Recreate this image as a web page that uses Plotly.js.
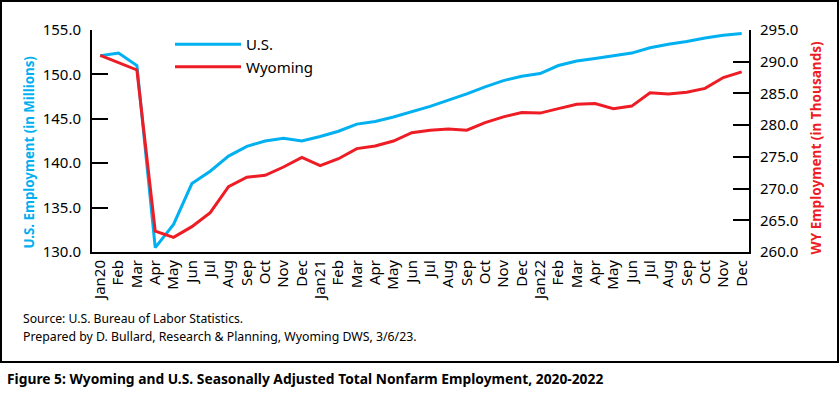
<!DOCTYPE html>
<html>
<head>
<meta charset="utf-8">
<script src="https://cdn.plot.ly/plotly-3.0.1.min.js"></script>
<style>
  html, body { margin: 0; padding: 0; background: #fff; }
  #chart { width: 840px; height: 393px; }
</style>
</head>
<body>
<div id="chart"></div>
<script>
// ---- Data ----
const monthLabels = [
  "Jan20","Feb","Mar","Apr","May","Jun","Jul","Aug","Sep","Oct","Nov","Dec",
  "Jan21","Feb","Mar","Apr","May","Jun","Jul","Aug","Sep","Oct","Nov","Dec",
  "Jan22","Feb","Mar","Apr","May","Jun","Jul","Aug","Sep","Oct","Nov","Dec"
];
// U.S. employment, millions
const usEmployment = [
  152.1, 152.4, 151.0, 130.5, 133.1, 137.7, 139.1, 140.8, 141.9, 142.5, 142.8, 142.5,
  143.0, 143.6, 144.4, 144.7, 145.2, 145.8, 146.4, 147.1, 147.8, 148.6, 149.3, 149.8,
  150.1, 151.0, 151.5, 151.8, 152.1, 152.4, 153.0, 153.4, 153.7, 154.1, 154.4, 154.6
];
// Wyoming employment, thousands
const wyEmployment = [
  291.0, 289.8, 288.7, 263.3, 262.3, 264.0, 266.2, 270.3, 271.8, 272.1, 273.4, 274.9,
  273.6, 274.7, 276.3, 276.7, 277.5, 278.8, 279.2, 279.4, 279.2, 280.4, 281.3, 282.0,
  281.9, 282.6, 283.3, 283.4, 282.6, 283.0, 285.1, 284.9, 285.2, 285.8, 287.5, 288.4
];
const seriesNames = ["U.S.", "Wyoming"];
const leftTicks = [130, 135, 140, 145, 150, 155];
const rightTicks = [260, 265, 270, 275, 280, 285, 290, 295];

// ---- Layout constants ----
const W = 840, H = 393;
const M = { l: 92, r: 91, t: 30, b: 141 };
const PW = W - M.l - M.r, PH = H - M.t - M.b;
const px2x = px => (px - M.l) / PW;
const py2y = py => (H - M.b - py) / PH;

const xIdx = monthLabels.map((_, i) => i);
const FONT = "Noto Sans, Open Sans, DejaVu Sans, sans-serif";
const BLUE = "#00B0F0";
const RED = "#EE1C24";

const traces = [
  {
    x: xIdx, y: usEmployment, name: seriesNames[0], type: "scatter", mode: "lines",
    line: { color: BLUE, width: 3 }, yaxis: "y"
  },
  {
    x: xIdx, y: wyEmployment, name: seriesNames[1], type: "scatter", mode: "lines",
    line: { color: RED, width: 3 }, yaxis: "y2"
  }
];

const layout = {
  width: W, height: H,
  margin: M,
  paper_bgcolor: "#fff", plot_bgcolor: "#fff",
  font: { family: FONT, size: 15, color: "#000" },
  showlegend: true,
  legend: {
    x: px2x(170), y: py2y(28), xanchor: "left", yanchor: "top",
    bgcolor: "rgba(0,0,0,0)", font: { size: 15, family: FONT },
    itemwidth: 66, tracegroupgap: 0
  },
  xaxis: {
    range: [-0.45, 35.4],
    tickmode: "array", tickvals: xIdx, ticktext: monthLabels,
    tickangle: -90, showgrid: false, zeroline: false,
    showline: true, linecolor: "#000", linewidth: 2,
    ticks: "", tickfont: { size: 15, family: FONT }, fixedrange: true
  },
  yaxis: {
    range: [130, 155], tickvals: leftTicks, tickformat: ".1f",
    showgrid: false, zeroline: false,
    showline: true, linecolor: "#000", linewidth: 2,
    ticks: "inside", ticklen: 16, tickwidth: 2, tickcolor: "#000",
    ticklabelstandoff: 6,
    tickfont: { size: 15, family: FONT }
  },
  yaxis2: {
    range: [260, 295], tickvals: rightTicks, tickformat: ".1f",
    overlaying: "y", side: "right",
    showgrid: false, zeroline: false,
    showline: true, linecolor: "#000", linewidth: 2,
    ticks: "inside", ticklen: 16, tickwidth: 2, tickcolor: "#000",
    ticklabelstandoff: 6,
    tickfont: { size: 15, family: FONT }
  },
  shapes: [
    {
      type: "rect", xref: "paper", yref: "paper", layer: "below",
      x0: px2x(1), x1: px2x(838), y0: py2y(362), y1: py2y(1),
      line: { color: "#000", width: 2 }, fillcolor: "rgba(0,0,0,0)"
    }
  ],
  annotations: [
    {
      text: "<b>U.S. Employment (in Millions)</b>", textangle: -90,
      xref: "paper", yref: "paper", x: px2x(28), y: py2y(152.5),
      xanchor: "center", yanchor: "middle", showarrow: false,
      font: { size: 13.3, color: BLUE, family: FONT }
    },
    {
      text: "<b>WY Employment (in Thousands)</b>", textangle: -90,
      xref: "paper", yref: "paper", x: px2x(815), y: py2y(147.5),
      xanchor: "center", yanchor: "middle", showarrow: false,
      font: { size: 13.6, color: RED, family: FONT }
    },
    {
      text: "Source: U.S. Bureau of Labor Statistics.",
      xref: "paper", yref: "paper", x: px2x(21), y: py2y(318),
      xanchor: "left", yanchor: "middle", showarrow: false,
      font: { size: 12.2, color: "#000", family: FONT }
    },
    {
      text: "Prepared by D. Bullard, Research & Planning, Wyoming DWS, 3/6/23.",
      xref: "paper", yref: "paper", x: px2x(21), y: py2y(336),
      xanchor: "left", yanchor: "middle", showarrow: false,
      font: { size: 12.3, color: "#000", family: FONT }
    },
    {
      text: "<b>Figure 5: Wyoming and U.S. Seasonally Adjusted Total Nonfarm Employment, 2020-2022</b>",
      xref: "paper", yref: "paper", x: px2x(5), y: py2y(378),
      xanchor: "left", yanchor: "middle", showarrow: false,
      font: { size: 13.8, color: "#000", family: FONT }
    }
  ]
};

Plotly.newPlot("chart", traces, layout, { displayModeBar: false, staticPlot: true });
</script>
</body>
</html>
